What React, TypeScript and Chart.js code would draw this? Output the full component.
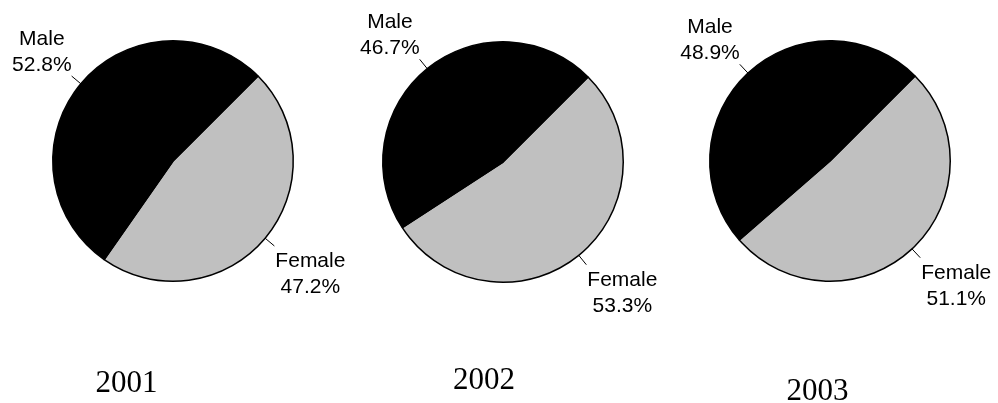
import { useEffect, useRef } from "react";
import { Chart, ArcElement, PieController } from "chart.js";
import type { ChartConfiguration, Plugin } from "chart.js";

Chart.register(ArcElement, PieController);

const years = ["2001", "2002", "2003"];
const categories = ["Female", "Male"];
const femaleShare = [47.2, 53.3, 51.1];
const maleShare = [52.8, 46.7, 48.9];
const sliceColors = ["#c0c0c0", "#000000"];

// where each pie sits on the page (pixels); canvases overlap so labels are not clipped
const panels = [
  { left: 0, width: 380, cx: 173, cy: 161, titleX: 126.5, titleY: 392 },
  { left: 330, width: 360, cx: 173, cy: 162, titleX: 154, titleY: 389 },
  { left: 660, width: 338, cx: 170, cy: 161, titleX: 157.5, titleY: 400 },
];
const RADIUS = 121;
const HEIGHT = 403;

// leader lines, two-line labels and the year caption
const pieLabels: Plugin<"pie"> = {
  id: "pieLabels",
  afterDatasetsDraw(chart, _args, opts: any) {
    const ctx = chart.ctx;
    const meta = chart.getDatasetMeta(0);
    const values = chart.data.datasets[0].data as number[];
    const labels = chart.data.labels as string[];
    ctx.save();
    ctx.fillStyle = "#000";
    ctx.strokeStyle = "#000";
    ctx.lineWidth = 1;
    ctx.font = '21px "Liberation Sans", Arial, sans-serif';
    ctx.textAlign = "center";
    ctx.textBaseline = "alphabetic";
    meta.data.forEach((el: any, i: number) => {
      const { x, y, startAngle, endAngle, outerRadius } = el.getProps(
        ["x", "y", "startAngle", "endAngle", "outerRadius"],
        true
      );
      const mid = (startAngle + endAngle) / 2;
      const cos = Math.cos(mid);
      const sin = Math.sin(mid);
      const sx = x + cos * outerRadius;
      const sy = y + sin * outerRadius;
      const ex = x + cos * (outerRadius + 12);
      const ey = y + sin * (outerRadius + 12);
      ctx.beginPath();
      ctx.moveTo(sx, sy);
      ctx.lineTo(ex, ey);
      ctx.stroke();

      const lines = [labels[i], values[i].toFixed(1) + "%"];
      const w = Math.max(...lines.map((l) => ctx.measureText(l).width));
      const blockLeft = cos >= 0 ? ex + 1 : ex - w;
      const tx = blockLeft + w / 2;
      const lh = 26;
      const firstBase = sin >= 0 ? ey + 21 : ey - 5.5 - lh;
      lines.forEach((l, k) => ctx.fillText(l, tx, firstBase + k * lh));
    });

    ctx.font = '31px "Liberation Serif", "Times New Roman", serif';
    ctx.fillText(opts.title, opts.titleX, opts.titleY);
    ctx.restore();
  },
};

interface PieProps {
  index: number;
}

function YearPie({ index }: PieProps) {
  const canvasRef = useRef<HTMLCanvasElement>(null);
  const chartRef = useRef<Chart | null>(null);
  const p = panels[index];

  useEffect(() => {
    if (!canvasRef.current) return;
    if (chartRef.current) chartRef.current.destroy();

    const config: ChartConfiguration<"pie"> = {
      type: "pie",
      data: {
        labels: categories,
        datasets: [
          {
            data: [femaleShare[index], maleShare[index]],
            backgroundColor: sliceColors,
            borderColor: "#000000",
            borderWidth: 1.5,
            hoverOffset: 0,
          },
        ],
      },
      options: {
        responsive: false,
        animation: false,
        events: [],
        rotation: 45,
        layout: {
          padding: {
            left: p.cx - RADIUS,
            right: p.width - (p.cx + RADIUS),
            top: p.cy - RADIUS,
            bottom: HEIGHT - (p.cy + RADIUS),
          },
        },
        plugins: {
          legend: { display: false },
          tooltip: { enabled: false },
          pieLabels: { title: years[index], titleX: p.titleX, titleY: p.titleY },
        } as any,
      },
      plugins: [pieLabels],
    };

    chartRef.current = new Chart(canvasRef.current, config);

    return () => {
      if (chartRef.current) {
        chartRef.current.destroy();
        chartRef.current = null;
      }
    };
  }, [index]);

  return (
    <div style={{ position: "absolute", left: p.left, top: 0, width: p.width, height: HEIGHT }}>
      <canvas ref={canvasRef} width={p.width} height={HEIGHT} />
    </div>
  );
}

export default function App() {
  return (
    <div
      style={{
        position: "absolute",
        left: 0,
        top: 0,
        width: 998,
        height: HEIGHT,
        background: "#ffffff",
        overflow: "hidden",
      }}
    >
      {years.map((_, i) => (
        <YearPie key={i} index={i} />
      ))}
    </div>
  );
}
